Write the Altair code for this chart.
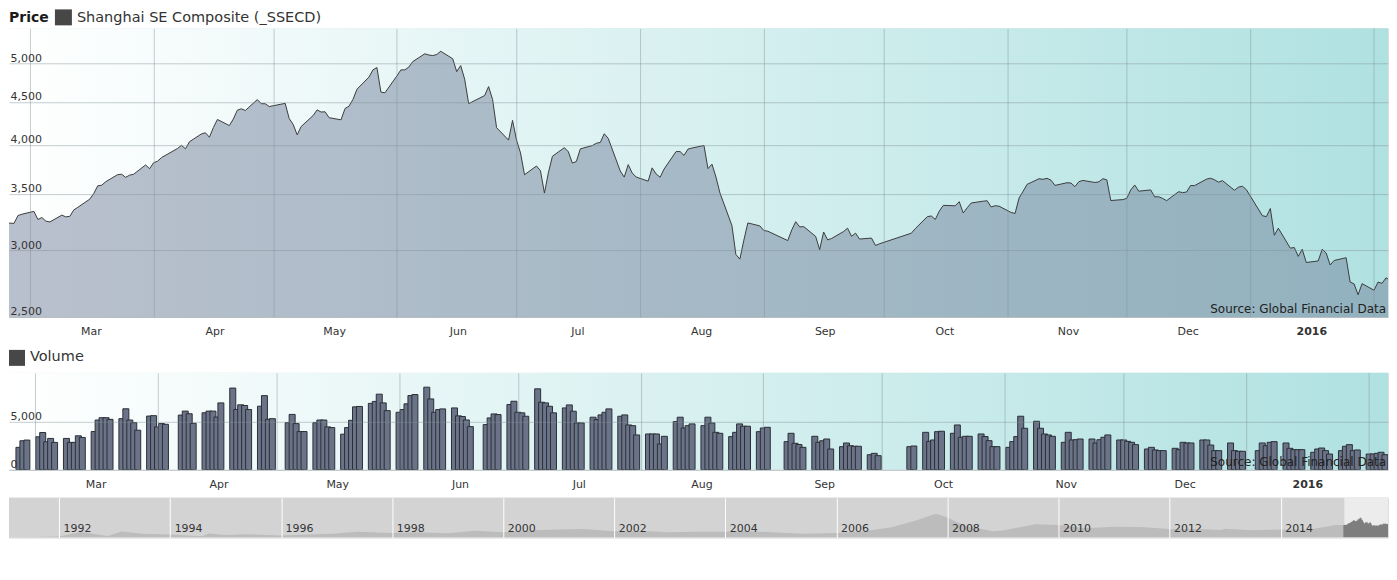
import altair as alt
import pandas as pd

FONT = "DejaVu Sans"

# ---------------- data ----------------
months = ["2015-02", "2015-03", "2015-04", "2015-05", "2015-06", "2015-07", "2015-08",
          "2015-09", "2015-10", "2015-11", "2015-12", "2016-01", "2016-02"]

days = [
    [17, 25, 26, 27],
    [2, 3, 4, 5, 6, 9, 10, 11, 12, 13, 16, 17, 18, 19, 20, 23, 24, 25, 26, 27, 30, 31],
    [1, 2, 3, 7, 8, 9, 10, 13, 14, 15, 16, 17, 20, 21, 22, 23, 24, 27, 28, 29, 30],
    [4, 5, 6, 7, 8, 11, 12, 13, 14, 15, 18, 19, 20, 21, 22, 25, 26, 27, 28, 29],
    [1, 2, 3, 4, 5, 8, 9, 10, 11, 12, 15, 16, 17, 18, 19, 23, 24, 25, 26, 29, 30],
    [1, 2, 3, 6, 7, 8, 9, 10, 13, 14, 15, 16, 17, 20, 21, 22, 23, 24, 27, 28, 29, 30, 31],
    [3, 4, 5, 6, 7, 10, 11, 12, 13, 14, 17, 18, 19, 20, 21, 24, 25, 26, 27, 28, 31],
    [1, 2, 7, 8, 9, 10, 11, 14, 15, 16, 17, 18, 21, 22, 23, 24, 25, 28, 29, 30],
    [8, 9, 12, 13, 14, 15, 16, 19, 20, 21, 22, 23, 26, 27, 28, 29, 30],
    [2, 3, 4, 5, 6, 9, 10, 11, 12, 13, 16, 17, 18, 19, 20, 23, 24, 25, 26, 27, 30],
    [1, 2, 3, 4, 7, 8, 9, 10, 11, 14, 15, 16, 17, 18, 21, 22, 23, 24, 25, 28, 29, 30, 31],
    [4, 5, 6, 7, 8, 11, 12, 13, 14, 15, 18, 19, 20, 21, 22, 25, 26, 27, 28, 29],
    [1, 2, 3, 4, 5],
]

prices = [
    [3246, 3228, 3298, 3310],
    [3336, 3263, 3280, 3248, 3241, 3302, 3286, 3291, 3349, 3373, 3449, 3503, 3577, 3583, 3617,
     3688, 3692, 3661, 3683, 3692, 3787, 3748],
    [3810, 3826, 3864, 3961, 3995, 3958, 4035, 4122, 4135, 4085, 4195, 4288, 4217, 4294, 4398,
     4415, 4394, 4527, 4477, 4476, 4442],
    [4481, 4299, 4230, 4112, 4206, 4334, 4402, 4376, 4379, 4309, 4284, 4418, 4446, 4530, 4658,
     4814, 4911, 4942, 4621, 4612],
    [4829, 4910, 4910, 4948, 5023, 5131, 5114, 5106, 5121, 5166, 5062, 4887, 4968, 4786, 4478,
     4577, 4691, 4528, 4193, 4053, 4277],
    [4054, 3913, 3687, 3776, 3728, 3507, 3710, 3878, 3970, 3925, 3806, 3823, 3957, 3993, 4018,
     4027, 4124, 4071, 3726, 3663, 3790, 3705, 3664],
    [3623, 3757, 3695, 3662, 3745, 3928, 3928, 3887, 3955, 3966, 3994, 3749, 3795, 3664, 3508,
     3210, 2965, 2928, 3084, 3232, 3206],
    [3166, 3160, 3080, 3170, 3243, 3197, 3200, 3115, 3005, 3153, 3086, 3098, 3157, 3186, 3116,
     3143, 3093, 3101, 3039, 3053],
    [3143, 3183, 3288, 3294, 3263, 3338, 3391, 3387, 3425, 3321, 3369, 3413, 3430, 3434, 3376,
     3388, 3383],
    [3326, 3317, 3460, 3523, 3591, 3647, 3641, 3651, 3633, 3581, 3607, 3605, 3569, 3618, 3630,
     3610, 3616, 3647, 3636, 3436, 3445],
    [3456, 3537, 3585, 3525, 3537, 3471, 3472, 3456, 3435, 3520, 3511, 3517, 3580, 3579, 3643,
     3652, 3637, 3613, 3628, 3534, 3564, 3573, 3539],
    [3297, 3288, 3362, 3125, 3186, 3017, 3022, 2950, 3008, 2901, 2913, 3008, 2977, 2881, 2917,
     2939, 2750, 2736, 2656, 2738],
    [2689, 2750, 2740, 2782, 2763],
]

volumes = [
    [2310, 2990, 3060],
    [3400, 3840, 2890, 3230, 2820, 3230, 2820, 2820, 3500, 3330, 3940, 5130, 5370, 5370, 5200,
     5270, 6290, 5130, 4860, 4080, 5540, 5580],
    [4420, 4760, 4690, 5640, 6050, 5780, 4790, 5880, 6050, 6050, 5440, 6900, 8430, 6220, 6700,
     6630, 6220, 6560, 7650, 5200, 5270],
    [4860, 5710, 4760, 3940, 3940, 4860, 5130, 5130, 4420, 4350, 3670, 4350, 5100, 6490, 6530,
     6850, 7050, 7800, 6900, 6100],
    [5930, 6210, 6800, 7660, 7760, 8520, 7310, 5930, 6210, 6280, 6380, 5560, 5490, 5140, 4450,
     4660, 5350, 5760, 5690, 6730, 7070],
    [5930, 5870, 5520, 8350, 6970, 6900, 6550, 5870, 6380, 6690, 6040, 4830, 4830, 5420, 5180,
     5660, 5930, 6280, 5520, 5660, 4620, 4550, 3590],
    [3690, 3690, 3690, 2660, 3450, 4970, 5420, 4310, 4550, 4730, 4550, 5420, 4830, 3860, 3760,
     3420, 3860, 4730, 4490, 4490, 3930],
    [4310, 4380, 2900, 3760, 2730, 2600, 2310, 3450, 2830, 2990, 3170, 2140, 2380, 2760, 2480,
     2420, 2420, 1550, 1690, 1450],
    [2380, 2450, 3860, 2930, 3070, 3930, 3970, 3760, 4620, 3350, 3450, 3450, 3690, 3420, 3000,
     2380, 2380],
    [2310, 2900, 3420, 5520, 4280, 5000, 4280, 3690, 3590, 3450, 2830, 3860, 3070, 3100, 3170,
     3170, 2760, 3100, 3350, 3590, 3070],
    [3070, 2930, 2830, 2590, 2140, 2310, 2040, 1970, 1970, 2210, 2070, 2830, 2760, 2760, 3070,
     3070, 2550, 1970, 1970, 2760, 1970, 1900, 1900],
    [1970, 2760, 2480, 2830, 2900, 2760, 2210, 2070, 2070, 2070, 1800, 2140, 2240, 1970, 1620,
     1970, 2420, 2590, 1970, 2040],
    [1620, 1620, 1690, 1800, 1550],
]

history_dates = ["1990-12-19", "1991-06-30", "1991-12-31", "1992-05-25", "1992-11-17", "1993-02-15",
                 "1993-06-30", "1993-12-31", "1994-07-29", "1994-09-13", "1994-12-31", "1995-05-22",
                 "1995-12-31", "1996-06-28", "1996-12-11", "1997-05-12", "1997-12-31", "1998-06-03",
                 "1998-12-31", "1999-06-29", "1999-12-31", "2000-06-30", "2000-12-29", "2001-06-13",
                 "2001-12-31", "2002-06-25", "2002-12-31", "2003-06-30", "2003-12-31", "2004-04-07",
                 "2004-12-31", "2005-06-03", "2005-12-30", "2006-06-30", "2006-12-29", "2007-05-29",
                 "2007-10-16", "2007-12-28", "2008-04-18", "2008-10-28", "2008-12-31", "2009-08-04",
                 "2009-12-31", "2010-06-30", "2010-12-31", "2011-06-30", "2011-12-30", "2012-06-29",
                 "2012-12-04", "2012-12-31", "2013-06-25", "2013-12-31", "2014-06-30", "2014-12-31",
                 "2015-02-17"]
history_values = [100, 130, 292, 1429, 390, 1558, 1000, 833, 333, 1052, 648, 897, 555, 800, 1000,
                  1500, 1194, 1400, 1147, 1739, 1367, 1930, 2073, 2245, 1646, 1732, 1358, 1487,
                  1497, 1780, 1267, 998, 1161, 1672, 2675, 4300, 6124, 5262, 3100, 1664, 1821,
                  3478, 3277, 2398, 2808, 2762, 2199, 2225, 1949, 2269, 1900, 2116, 2048, 3235,
                  3246]

price_title = "Price"
series_name = "Shanghai SE Composite (_SSECD)"
volume_title = "Volume"
source_note = "Source: Global Financial Data"
year_ticks = [1992, 1994, 1996, 1998, 2000, 2002, 2004, 2006, 2008, 2010, 2012, 2014]
extra_grid_dates = ["2016-02-01"]
price_floor = 2500

# ---------------- tables ----------------
p_rows, v_rows = [], []
for m, ds, ps, vs in zip(months, days, prices, volumes):
    for d, p in zip(ds, ps):
        p_rows.append({"date": pd.Timestamp(f"{m}-{d:02d}"), "price": p})
    for d, v in zip(ds[-len(vs):], vs):
        v_rows.append({"date": pd.Timestamp(f"{m}-{d:02d}"), "volume": v})
price_df = pd.DataFrame(p_rows)
vol_df = pd.DataFrame(v_rows)
hist_df = pd.DataFrame({"date": pd.to_datetime(history_dates), "price": history_values})
sel_df = pd.DataFrame({"start": [pd.Timestamp("2015-02-23 18:00")], "end": [pd.Timestamp("2016-02-06")]})
grid_df = pd.DataFrame({"date": pd.to_datetime(extra_grid_dates)})

# ---------------- styles ----------------
W = 1381
GRID = "#7f8f96"
grad = {"gradient": "linear", "x1": 0, "y1": 0, "x2": 1, "y2": 0,
        "stops": [{"offset": 0, "color": "#ffffff"}, {"offset": 1, "color": "#b0e1e1"}]}

x_dom = [alt.DateTime(year=2015, month=2, date=23, hours=18), alt.DateTime(year=2016, month=2, date=4, hours=12)]
month_ticks = [alt.DateTime(year=2015, month=m, date=1) for m in range(3, 13)] + \
              [alt.DateTime(year=2016, month=1, date=1)]


def month_axis():
    return alt.Axis(
        values=month_ticks,
        labelExpr="month(datum.value)==0 ? timeFormat(datum.value,'%Y') : timeFormat(datum.value,'%b')",
        labelOffset=61, labelPadding=9, tickSize=0, ticks=False, domain=False,
        grid=True, gridColor=GRID, gridOpacity=0.45,
        labelFont=FONT, labelFontSize=11, labelColor="#333333",
        labelFontWeight={"condition": {"test": "month(datum.value)==0", "value": "bold"}, "value": "normal"},
        labelFlush=False, labelOverlap=False, title=None, zindex=1)


def inside_y_axis(vals):
    return alt.Axis(values=vals, labelExpr="format(datum.value, ',')", orient="left",
                    labelAlign="left", labelBaseline="bottom",
                    labelPadding=-1, tickSize=0, ticks=False, domain=False, grid=True,
                    gridColor=GRID, gridOpacity=0.45, labelFont=FONT, labelFontSize=11,
                    labelColor="#333333", labelFlush=False, labelOverlap=False, title=None, zindex=1)


one = pd.DataFrame({"k": [0]})

def bg_rect():
    return alt.Chart(one).mark_rect(fill=grad).encode(
        x=alt.value(0), x2=alt.value("width"), y=alt.value(0), y2=alt.value("height"))

def label(txt, x, y, size=14.5, weight="normal", align="left", baseline="top", color="#333333"):
    return alt.Chart(pd.DataFrame({"t": [txt]})).mark_text(
        align=align, baseline=baseline, font=FONT, fontSize=size, fontWeight=weight, color=color
    ).encode(x=alt.value(x), y=alt.value(y), text="t:N")

def square(x0, x1, y0, y1):
    return alt.Chart(one).mark_rect(fill="#474747").encode(
        x=alt.value(x0), x2=alt.value(x1), y=alt.value(y0), y2=alt.value(y1))

def extra_grid(scale):
    return alt.Chart(grid_df).mark_rule(color=GRID, opacity=0.45, strokeWidth=1).encode(
        x=alt.X("date:T", scale=scale))

# ---------------- price panel ----------------
x_scale = alt.Scale(domain=x_dom, nice=False)
p_scale = alt.Scale(type="log", domain=[2500, 5500], nice=False)

p_area = alt.Chart(price_df).mark_area(clip=True, fill="#74829c", fillOpacity=0.5).encode(
    x=alt.X("date:T", scale=x_scale, axis=month_axis()),
    y=alt.Y("price:Q", scale=p_scale, axis=inside_y_axis([2500, 3000, 3500, 4000, 4500, 5000])),
    y2=alt.datum(price_floor))
p_line = alt.Chart(price_df).mark_line(clip=True, color="#3c3c3c", strokeWidth=1).encode(
    x=alt.X("date:T", scale=x_scale), y=alt.Y("price:Q", scale=p_scale))

price = alt.layer(
    bg_rect(), p_area, p_line, extra_grid(x_scale),
    label(price_title, 0, -17, size=14, weight="bold", color="#1a1a1a"),
    square(46, 63, -19, -3),
    label(series_name, 68, -17),
    label(source_note, 1379, 285, size=12, align="right", baseline="alphabetic", color="#222222"),
).properties(width=W, height=289)

# ---------------- volume panel ----------------
v_bars = alt.Chart(vol_df).mark_bar(width=6, fill="#6b7388", stroke="#2b2f36", strokeWidth=1, clip=True).encode(
    x=alt.X("date:T", scale=x_scale, axis=month_axis()),
    y=alt.Y("volume:Q", scale=alt.Scale(domain=[0, 10000], nice=False), axis=inside_y_axis([0, 5000])))

volume = alt.layer(
    bg_rect(), v_bars, extra_grid(x_scale),
    square(0, 16, -23, -7),
    label(volume_title, 21, -23),
    label(source_note, 1379, 93, size=12, align="right", baseline="alphabetic", color="#222222"),
).properties(width=W, height=97)

# ---------------- navigator ----------------
n_x = alt.Scale(domain=[alt.DateTime(year=1991, month=2, date=6), alt.DateTime(year=2015, month=12, date=8)], nice=False)
n_y = alt.Scale(domain=[0, 10300], nice=False)
year_axis = alt.Axis(values=[alt.DateTime(year=y, month=1, date=1) for y in year_ticks], format="%Y",
                     labelAlign="left", labelBaseline="bottom", labelPadding=-4, labelOffset=4,
                     tickSize=0, ticks=False, domain=False, grid=True, gridColor="#ffffff", gridOpacity=1,
                     labelFont=FONT, labelFontSize=11, labelColor="#333333", labelFlush=False,
                     labelOverlap=False, title=None, zindex=1)

n_bg = alt.Chart(one).mark_rect(fill="#d3d3d3").encode(
    x=alt.value(0), x2=alt.value("width"), y=alt.value(0), y2=alt.value("height"))
n_hist = alt.Chart(hist_df).mark_area(clip=True, fill="#bcbcbc").encode(
    x=alt.X("date:T", scale=n_x, axis=year_axis), y=alt.Y("price:Q", scale=n_y, axis=None))
n_sel = alt.Chart(sel_df).mark_rect(fill="#ececec", clip=True).encode(
    x=alt.X("start:T", scale=n_x), x2="end:T", y=alt.value(0), y2=alt.value("height"))
n_dark = alt.Chart(price_df).mark_area(clip=True, fill="#7e7e7e").encode(
    x=alt.X("date:T", scale=n_x), y=alt.Y("price:Q", scale=n_y))

nav = alt.layer(n_bg, n_hist, n_sel, n_dark).properties(width=W, height=40)

inner = alt.vconcat(volume, nav, spacing=28, bounds="flush")
chart = alt.vconcat(price, inner, spacing=56, bounds="flush").properties(
    padding=0
).configure_view(stroke="#c4c4c4", strokeWidth=1).configure(font=FONT)

chart.save("out.html", embed_options={"renderer": "svg", "actions": False})
